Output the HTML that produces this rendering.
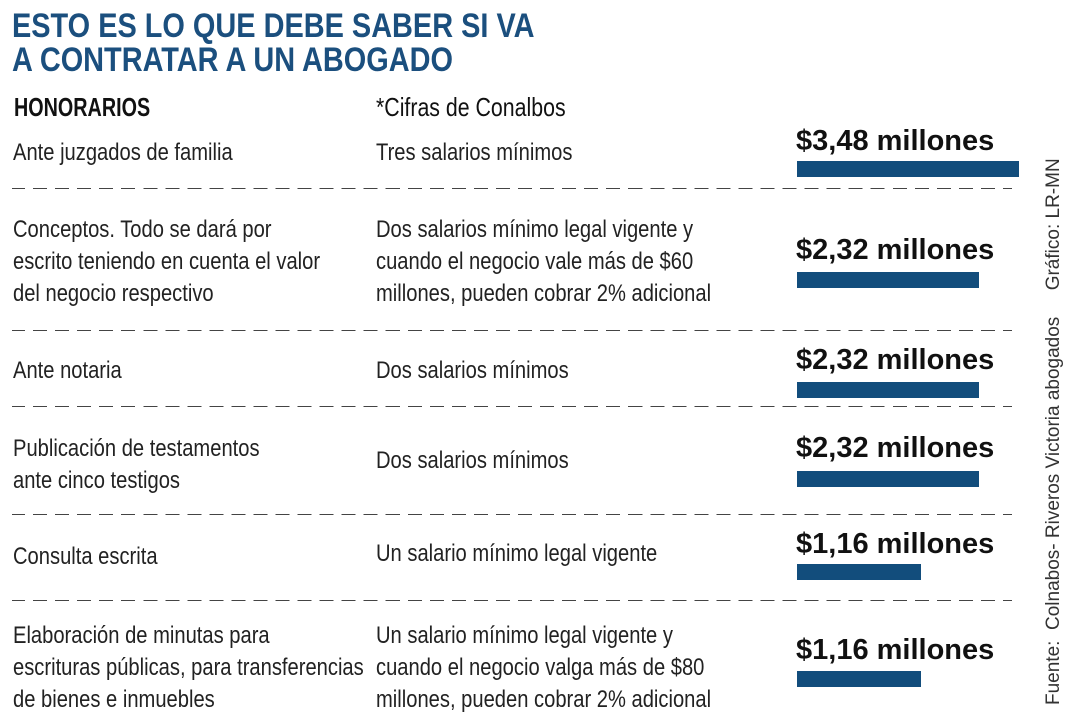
<!DOCTYPE html>
<html><head><meta charset="utf-8"><style>
body{margin:0;width:1080px;height:720px;background:#fff;position:relative;overflow:hidden;font-family:"Liberation Sans",sans-serif;color:#222}
.a{position:absolute;white-space:nowrap;transform-origin:0 0}
.t{font-weight:bold;color:#1b4f7e;font-size:34px;line-height:34px;left:12px;transform:scaleX(0.85)}
.r{font-size:24px;line-height:32px;color:#222;transform:scaleX(0.84)}
.v{font-weight:bold;font-size:29px;color:#111;left:796px}
.b{position:absolute;left:797px;height:16px;background:#124d7c}
.d{position:absolute;left:12px;width:1000px;height:0;border-top:1.5px dashed #444;border-image:repeating-linear-gradient(90deg,#444 0 14px,transparent 14px 22px) 1}
</style></head><body>
<div class="a t" style="top:9px">ESTO ES LO QUE DEBE SABER SI VA</div>
<div class="a t" style="top:43px">A CONTRATAR A UN ABOGADO</div>
<div class="a" style="left:14px;top:92px;font-size:26px;font-weight:bold;color:#111;transform:scaleX(0.76)">HONORARIOS</div>
<div class="a" style="left:376px;top:92px;font-size:26px;color:#111;transform:scaleX(0.82)">*Cifras de Conalbos</div>

<div class="a r" style="left:13px;top:137px">Ante juzgados de familia</div>
<div class="a r" style="left:376px;top:137px">Tres salarios mínimos</div>
<div class="a v" style="top:125px">$3,48 millones</div>
<div class="b" style="top:161px;width:222px"></div>
<div class="d" style="top:188px"></div>

<div class="a r" style="left:13px;top:214px">Conceptos. Todo se dará por<br>escrito teniendo en cuenta el valor<br>del negocio respectivo</div>
<div class="a r" style="left:376px;top:214px">Dos salarios mínimo legal vigente y<br>cuando el negocio vale más de $60<br>millones, pueden cobrar 2% adicional</div>
<div class="a v" style="top:234px">$2,32 millones</div>
<div class="b" style="top:272px;width:182px"></div>
<div class="d" style="top:330px"></div>

<div class="a r" style="left:13px;top:355px">Ante notaria</div>
<div class="a r" style="left:376px;top:355px">Dos salarios mínimos</div>
<div class="a v" style="top:344px">$2,32 millones</div>
<div class="b" style="top:382px;width:182px"></div>
<div class="d" style="top:406px"></div>

<div class="a r" style="left:13px;top:433px">Publicación de testamentos<br>ante cinco testigos</div>
<div class="a r" style="left:376px;top:445px">Dos salarios mínimos</div>
<div class="a v" style="top:432px">$2,32 millones</div>
<div class="b" style="top:471px;width:182px"></div>
<div class="d" style="top:514px"></div>

<div class="a r" style="left:13px;top:541px">Consulta escrita</div>
<div class="a r" style="left:376px;top:538px">Un salario mínimo legal vigente</div>
<div class="a v" style="top:528px">$1,16 millones</div>
<div class="b" style="top:564px;width:124px"></div>
<div class="d" style="top:600px"></div>

<div class="a r" style="left:13px;top:620px">Elaboración de minutas para<br>escrituras públicas, para transferencias<br>de bienes e inmuebles</div>
<div class="a r" style="left:376px;top:620px">Un salario mínimo legal vigente y<br>cuando el negocio valga más de $80<br>millones, pueden cobrar 2% adicional</div>
<div class="a v" style="top:634px">$1,16 millones</div>
<div class="b" style="top:671px;width:124px"></div>

<div class="a" style="left:1043px;top:705px;transform:rotate(-90deg);font-size:19px;color:#333">Fuente:&nbsp; Colnabos- Riveros Victoria abogados&nbsp;&nbsp;&nbsp;&nbsp; Gráfico: LR-MN</div>
</body></html>
